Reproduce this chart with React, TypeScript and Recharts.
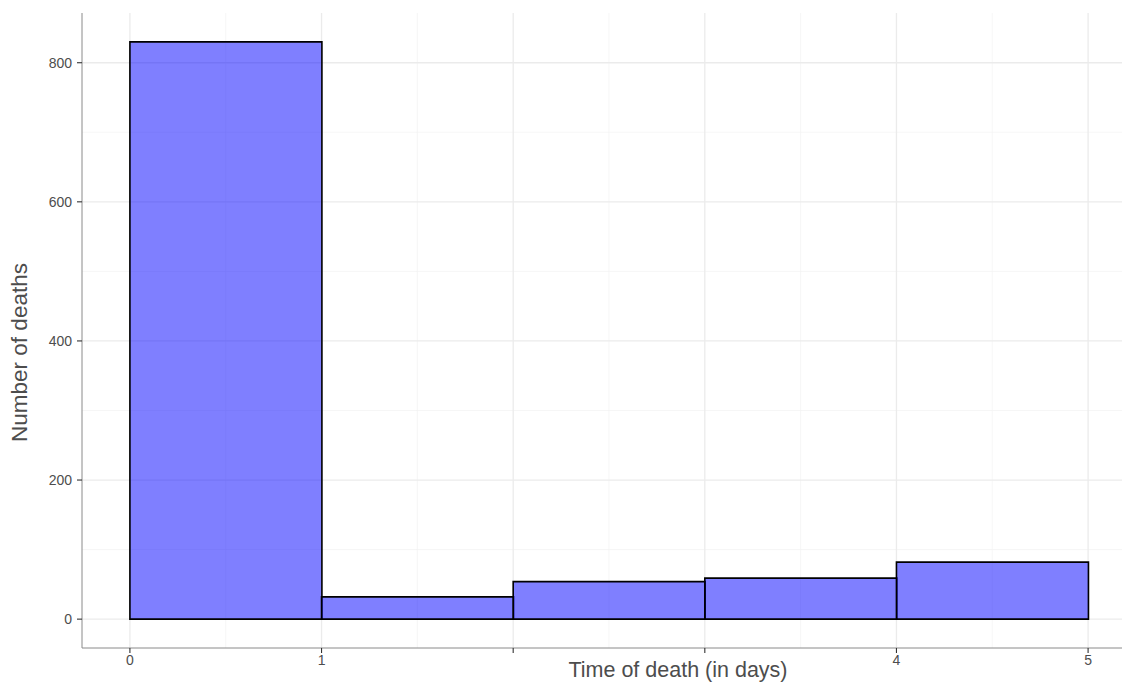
import { ComposedChart, Bar, XAxis, YAxis, CartesianGrid } from "recharts";

const BIN_CENTERS = [0.5, 1.5, 2.5, 3.5, 4.5];
const DEATHS = [830, 32, 54, 59, 82];
const X_TICKS = [0, 1, 2, 3, 4, 5];
const X_TICK_LABELS = ["0", "1", "", "", "4", "5"];
const Y_TICKS = [0, 200, 400, 600, 800];
const X_MINOR = [0.5, 1.5, 2.5, 3.5, 4.5];
const Y_MINOR = [100, 300, 500, 700];

const data = BIN_CENTERS.map((x, i) => ({ x, deaths: DEATHS[i] }));

const FONT = "'Liberation Sans', Arial, sans-serif";
const tickStyle = { fill: "#4d4d4d", fontSize: 14, fontFamily: FONT };

const XTitle = (props: any) => {
  const vb = props.viewBox;
  return (
    <text
      x={vb.x + vb.width / 2 + 69}
      y={vb.y + 29}
      textAnchor="middle"
      fill="#4d4d4d"
      fontSize={21.5}
      fontFamily={FONT}
    >
      Time of death (in days)
    </text>
  );
};

const YTitle = (props: any) => {
  const vb = props.viewBox;
  const cy = vb.y + vb.height / 2 + 22;
  return (
    <text
      x={27}
      y={cy}
      transform={`rotate(-90 27 ${cy})`}
      textAnchor="middle"
      fill="#4d4d4d"
      fontSize={22.5}
      fontFamily={FONT}
    >
      Number of deaths
    </text>
  );
};

export default function App() {
  return (
    <div
      style={{
        position: "absolute",
        left: 0,
        top: 0,
        width: 1122,
        height: 688,
        overflow: "hidden",
        background: "#fff",
      }}
    >
      <ComposedChart
        width={1140}
        height={688}
        data={data}
        margin={{ top: 13, right: 4, bottom: 0, left: 0 }}
        barCategoryGap={0}
        barGap={0}
      >
        {/* minor grid */}
        <CartesianGrid
          stroke="#f2f2f2"
          strokeWidth={0.7}
          horizontalValues={Y_MINOR}
          verticalValues={X_MINOR}
        />
        {/* major grid */}
        <CartesianGrid
          stroke="#ebebeb"
          strokeWidth={1.3}
          horizontalValues={Y_TICKS}
          verticalValues={X_TICKS}
        />
        <XAxis
          dataKey="x"
          type="number"
          domain={[-0.25, 5.25]}
          ticks={X_TICKS}
          allowDataOverflow
          height={40}
          stroke="#8a8a8a"
          tickLine={{ stroke: "#333", strokeWidth: 1.1 }}
          tickSize={5}
          tick={tickStyle}
          tickMargin={2}
          tickFormatter={(v: number) => X_TICK_LABELS[X_TICKS.indexOf(v)] ?? ""}
          label={<XTitle />}
        />
        <XAxis
          xAxisId="top"
          orientation="top"
          type="number"
          domain={[-0.25, 5.25]}
          height={0}
          tick={false}
          tickLine={false}
          stroke="#8a8a8a"
        />
        <YAxis
          type="number"
          domain={[-41.5, 871.5]}
          ticks={Y_TICKS}
          allowDataOverflow
          width={82}
          stroke="#8a8a8a"
          tickLine={{ stroke: "#333", strokeWidth: 1.1 }}
          tickSize={5}
          tickMargin={5}
          tick={tickStyle}
          label={<YTitle />}
        />
        <Bar
          dataKey="deaths"
          fill="#0000ff"
          fillOpacity={0.5}
          stroke="#000"
          strokeWidth={1.6}
          isAnimationActive={false}
        />
      </ComposedChart>
    </div>
  );
}
